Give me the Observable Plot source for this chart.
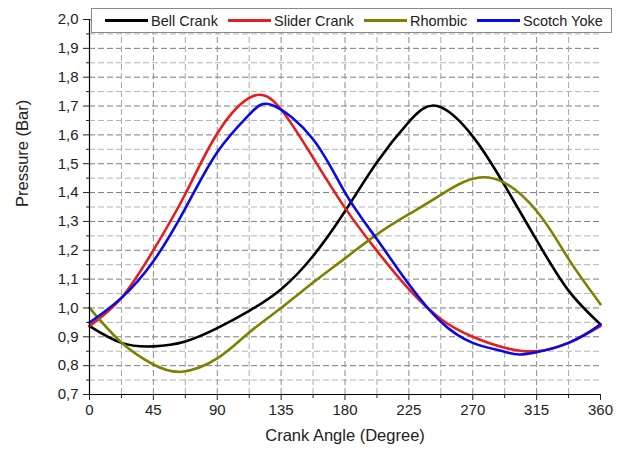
<!DOCTYPE html>
<html>
<head>
<meta charset="utf-8">
<script src="https://cdn.jsdelivr.net/npm/d3@7"></script>
<script src="https://cdn.jsdelivr.net/npm/@observablehq/plot@0.6"></script>
<style>
  html, body { margin: 0; padding: 0; background: #fff; }
  #wrap { position: relative; width: 622px; height: 454px; font-family: "Liberation Sans", Arial, sans-serif; }
  #legend { position: absolute; left: 91px; top: 8px; width: 519px; height: 23px; border: 1px solid #8a8a8a; background: #fff; box-sizing: content-box; }
  .item { position: absolute; top: 0; height: 23px; display: flex; align-items: center; font-size: 14.5px; color: #222; white-space: nowrap; }
  .sw { display: inline-block; width: 43px; height: 3px; margin-right: 3px; }
</style>
</head>
<body>
<div id="wrap"><div id="legend"></div></div>
<script>
// Series names and colours
const seriesNames = ["Bell Crank", "Slider Crank", "Rhombic", "Scotch Yoke"];
const seriesColors = ["#000000", "#e41e1e", "#808000", "#0a0ae6"];

// [crank angle (deg), pressure (bar)]
const bellCrank = [[0,0.937],[22.5,0.879],[45,0.867],[67.5,0.884],[90,0.93],[112.5,0.99],[135,1.065],[157.5,1.18],[180,1.335],[202.5,1.505],[225,1.645],[245,1.70],[270,1.595],[292.5,1.425],[315,1.235],[337.5,1.06],[360,0.943]];
const sliderCrank = [[0,0.937],[22.5,1.035],[45,1.2],[67.5,1.395],[90,1.605],[115,1.734],[135,1.688],[157.5,1.521],[180,1.347],[202.5,1.198],[225,1.065],[247.5,0.962],[270,0.9],[292.5,0.862],[315,0.85],[337.5,0.879],[360,0.937]];
const rhombic = [[0,1.0],[22.5,0.88],[45,0.804],[65,0.779],[90,0.825],[112.5,0.915],[135,1.0],[157.5,1.088],[180,1.172],[202.5,1.255],[225,1.325],[247.5,1.392],[281,1.452],[315,1.336],[337.5,1.17],[360,1.013]];
const scotchYoke = [[0,0.949],[22.5,1.035],[45,1.162],[67.5,1.345],[90,1.54],[112.5,1.67],[129,1.703],[157.5,1.585],[180,1.40],[202.5,1.238],[225,1.082],[247.5,0.952],[270,0.879],[292.5,0.848],[307,0.84],[337.5,0.879],[360,0.943]];

// Ticks
const xMajorTicks = [0, 45, 90, 135, 180, 225, 270, 315, 360];
const xMinorTicks = [22.5, 67.5, 112.5, 157.5, 202.5, 247.5, 292.5, 337.5];
const yMajorTicks = [0.7, 0.8, 0.9, 1.0, 1.1, 1.2, 1.3, 1.4, 1.5, 1.6, 1.7, 1.8, 1.9, 2.0];
const yMinorTicks = [0.75, 0.85, 0.95, 1.05, 1.15, 1.25, 1.35, 1.45, 1.55, 1.65, 1.75, 1.85, 1.95];

const allSeries = [bellCrank, sliderCrank, rhombic, scotchYoke];
const data = allSeries.flatMap((s, i) => s.map(([a, p]) => ({angle: a, pressure: p, series: seriesNames[i]})));

const fmt = d => d3.format(".1f")(d).replace(".", ",");
const font = "Liberation Sans, Arial, sans-serif";

const chart = Plot.plot({
  width: 622,
  height: 454,
  marginLeft: 89,
  marginRight: 22,
  marginTop: 19,
  marginBottom: 60,
  style: {fontFamily: font, fontSize: "15px", color: "#222", background: "#fff"},
  x: {domain: [0, 360]},
  y: {domain: [0.7, 2.0]},
  color: {domain: seriesNames, range: seriesColors},
  marks: [
    Plot.ruleY(yMinorTicks, {stroke: "#b3b3b3", strokeDasharray: "6,3", strokeWidth: 1}),
    Plot.ruleY(yMajorTicks.filter(d => d > 0.7), {stroke: "#7c7c7c", strokeDasharray: "6,3", strokeWidth: 1}),
    Plot.ruleX(xMinorTicks, {stroke: "#a8a8a8", strokeDasharray: "6,3", strokeWidth: 1}),
    Plot.ruleX(xMajorTicks.filter(d => d > 0 && d < 360), {stroke: "#8c8c8c", strokeDasharray: "6,3", strokeWidth: 1}),
    Plot.line(data, {x: "angle", y: "pressure", z: "series", stroke: "series", strokeWidth: 2.6, curve: "natural"}),
    Plot.ruleX([0], {stroke: "#000", strokeWidth: 1.2}),
    Plot.ruleY([0.7], {stroke: "#000", strokeWidth: 1.2}),
    Plot.axisY({ticks: yMajorTicks, tickSize: 6, tickPadding: 5, tickFormat: fmt, fontSize: 15, label: null}),
    Plot.axisY({ticks: yMinorTicks, tickSize: 3, tickFormat: () => "", label: null}),
    Plot.axisX({ticks: xMajorTicks, tickSize: 6, tickPadding: 4, fontSize: 15, label: null}),
    Plot.axisX({ticks: xMinorTicks, tickSize: 4, tickFormat: () => "", label: null}),
    Plot.text(["Crank Angle (Degree)"], {frameAnchor: "bottom", dy: 46, fontSize: 16.5, fill: "#222"}),
    Plot.text(["Pressure (Bar)"], {frameAnchor: "left", dx: -67, rotate: -90, fontSize: 16.5, fill: "#222"})
  ]
});
const wrap = document.getElementById("wrap");
wrap.insertBefore(chart, wrap.firstChild);
chart.style.display = "block";

// Legend (HTML overlay at the top of the plot)
const legendLeft = [13, 136, 272, 385];
const legend = document.getElementById("legend");
seriesNames.forEach((name, i) => {
  const it = document.createElement("div");
  it.className = "item";
  it.style.left = legendLeft[i] + "px";
  const sw = document.createElement("span");
  sw.className = "sw";
  sw.style.background = seriesColors[i];
  it.appendChild(sw);
  it.appendChild(document.createTextNode(name));
  legend.appendChild(it);
});
</script>
</body>
</html>
